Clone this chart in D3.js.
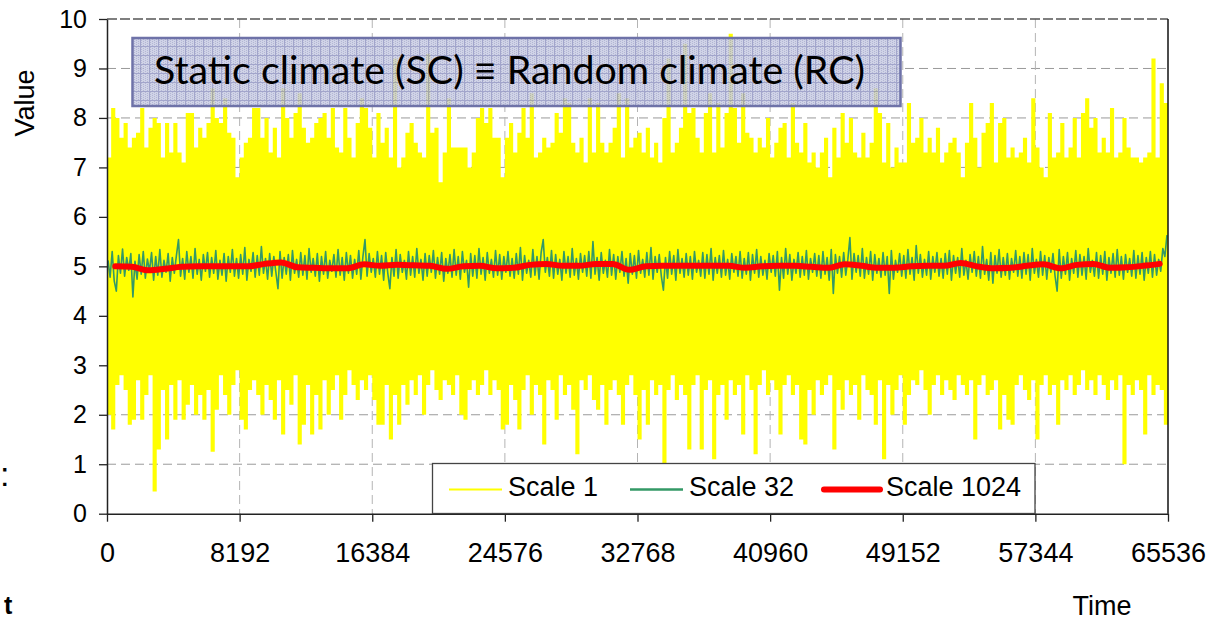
<!DOCTYPE html>
<html><head><meta charset="utf-8">
<script src="https://cdn.jsdelivr.net/npm/d3@7"></script>
<style>body{margin:0;background:#fff;overflow:hidden}svg{display:block}</style>
</head><body>
<svg id="c" width="1216" height="620"></svg>
<script>
// ---------- data ----------
const timeTicks = [0, 8192, 16384, 24576, 32768, 40960, 49152, 57344, 65536];
const valueTicks = [0, 1, 2, 3, 4, 5, 6, 7, 8, 9, 10];
const seriesNames = ["Scale 1", "Scale 32", "Scale 1024"];
const titleText = "Static climate (SC) \u2261 Random climate (RC)";
const timeSpan = 65536;

// Scale 1: upper and lower envelope per block of 256 time steps
const scale1High = [
7.2,8.2,8.0,7.6,7.9,7.4,7.6,7.7,8.2,7.4,
7.8,8.0,7.9,7.2,7.9,7.3,7.9,7.3,7.1,8.1,
8.1,7.4,7.8,7.6,7.9,8.6,8.0,7.9,8.4,7.7,
7.6,6.8,7.2,7.5,7.6,8.2,8.2,7.6,8.0,7.3,
7.8,7.2,8.6,8.0,7.6,8.1,8.5,7.8,7.5,7.6,
7.9,8.0,8.1,7.6,8.2,7.4,7.3,8.2,7.6,7.2,
7.9,8.4,8.2,7.8,7.2,8.1,7.5,7.8,7.2,9.2,
7.0,7.2,7.7,7.9,7.5,7.3,
7.2,9.3,7.7,7.8,6.7,7.3,8.4,7.4,7.4,7.4,
7.4,7.0,7.3,8.0,8.2,7.9,8.2,7.6,7.6,6.8,
7.6,7.9,7.3,7.7,8.2,7.6,8.5,7.2,7.3,7.6,
7.4,7.5,8.1,7.7,8.4,8.3,7.5,7.3,7.6,7.1,
8.4,7.3,8.3,7.5,7.3,7.5,7.8,8.5,7.2,8.4,
7.4,7.6,7.7,7.3,7.8,7.2,7.5,7.1,8.0,9.2,
7.3,7.5,7.8,9.5,8.1,8.2,7.6,7.3,8.1,8.5,
7.3,8.3,7.4,8.1,9.7,8.2,7.5,8.5,7.7,7.6,
7.3,7.6,7.4,8.0,7.2,7.5,7.8,7.9,7.2,8.3,
7.5,7.3,7.9,7.1,7.3,7.0,7.3,
7.6,6.8,7.8,7.2,8.1,7.5,8.0,7.3,7.2,7.7,
7.2,7.5,8.6,8.1,7.1,7.9,7.0,7.4,7.1,7.1,
8.3,7.5,7.6,8.0,7.3,7.6,7.3,7.8,7.1,7.3,
7.5,7.6,7.3,6.8,7.5,8.3,7.6,7.0,7.7,7.9,
8.3,7.1,7.9,8.0,7.2,7.4,7.2,7.3,7.6,7.1,
8.4,7.4,7.0,6.8,8.1,7.2,7.3,7.9,7.2,7.4,
8.0,7.2,8.1,8.4,7.8,8.0,7.3,7.6,7.3,8.2,
7.2,7.3,8.0,7.4,7.2,7.2,7.1,7.2,7.3,9.2,
7.2,8.7,8.3
];
const scale1Low = [
2.0,1.7,2.6,2.8,2.5,1.8,1.9,2.7,1.9,2.4,
2.8,0.45,1.3,2.5,1.5,2.6,1.9,2.7,1.9,2.2,
2.6,2.0,2.4,1.9,2.5,1.25,2.1,2.8,2.4,2.0,
2.6,2.9,1.9,1.7,2.5,2.7,2.4,2.0,2.6,2.3,
1.9,2.7,1.6,2.5,2.2,2.8,1.4,1.8,2.6,1.6,
2.4,1.7,2.7,2.0,2.5,2.8,1.9,2.4,2.9,2.6,
2.3,2.7,2.5,2.8,2.3,1.8,1.8,2.6,1.5,2.4,
1.8,2.6,2.2,2.7,2.4,2.8,2.0,2.6,2.9,2.5,
2.3,2.7,2.6,2.4,2.8,2.0,1.9,2.5,2.7,2.4,
2.6,2.9,2.4,2.7,2.5,1.7,1.8,2.6,2.3,1.7,
2.5,2.8,2.0,2.6,2.4,1.4,2.7,2.5,1.9,2.8,
2.4,2.6,2.1,1.2,2.7,2.5,2.8,2.3,2.1,2.6,
1.8,2.5,2.7,2.4,1.8,2.6,2.8,2.4,1.5,2.5,
1.8,2.7,2.4,2.6,1.0,2.5,2.8,2.3,2.6,2.4,
1.3,2.6,2.8,1.3,2.5,2.7,1.1,2.4,2.6,1.9,
2.7,2.4,2.6,1.6,2.8,2.5,1.2,2.6,2.9,2.4,
2.7,2.5,1.6,2.6,2.8,2.4,2.6,1.5,1.4,2.5,
2.0,2.7,2.4,2.6,2.8,1.3,2.5,2.1,2.7,2.4,
2.6,1.9,2.8,2.5,2.4,1.8,2.7,1.1,2.6,2.0,
2.5,2.8,1.8,2.4,2.7,2.6,2.9,2.5,2.0,2.6,
2.8,2.4,2.7,2.5,2.3,2.8,2.6,2.4,2.7,1.5,
2.6,2.8,2.4,2.5,2.7,1.7,2.4,1.9,1.8,2.6,
2.8,2.5,2.3,2.7,1.5,2.6,2.8,2.4,2.6,1.8,
2.7,2.5,2.8,2.4,2.6,2.9,2.5,2.7,2.4,2.8,
2.6,2.3,2.7,2.5,2.8,1.0,2.6,2.4,2.7,2.5,
1.6,2.8,2.4,2.6,2.5,1.8
];
// Scale 32 (one value per 128 time steps, as drawn)
const scale32 = [
5.12,4.78,5.30,4.70,4.50,5.22,4.86,5.35,4.80,5.18,4.92,5.26,4.38,5.10,4.74,5.24,
4.84,5.30,4.76,5.15,4.90,5.28,4.72,5.20,4.82,5.34,4.78,5.12,4.88,5.26,4.70,5.18,
4.86,5.22,5.54,4.80,5.16,4.74,5.30,4.88,5.20,4.76,5.36,4.84,5.14,4.72,5.24,4.90,
5.28,4.78,5.18,4.86,5.32,4.74,5.12,4.82,5.26,4.70,5.20,4.88,5.34,4.80,5.16,4.76,
5.24,4.84,5.38,4.72,5.14,4.90,5.28,4.78,5.22,4.82,5.40,4.86,5.16,4.74,5.26,4.80,
5.20,4.88,4.55,5.30,4.76,5.18,4.84,5.24,4.72,5.32,4.86,5.14,4.78,5.28,4.82,5.22,
4.74,5.36,4.88,5.16,4.80,5.26,4.70,5.20,4.84,5.30,4.76,5.12,4.90,5.24,4.78,5.34,
4.82,5.18,4.72,5.28,4.86,5.22,4.76,5.14,4.84,5.32,4.74,5.20,5.54,4.80,5.26,4.88,
5.16,4.78,5.30,4.84,5.22,4.72,5.28,4.86,4.55,5.18,4.80,5.34,4.76,5.24,4.88,5.12,
4.74,5.30,4.82,5.20,4.78,5.36,4.86,5.14,4.72,5.26,4.80,5.22,4.88,5.32,4.76,5.18,
4.84,5.28,4.70,5.16,4.86,5.24,4.78,5.34,4.82,5.20,4.74,5.30,4.88,5.12,4.58,5.26,
4.80,5.22,4.76,5.36,4.84,5.18,4.72,5.28,4.86,5.14,4.78,5.32,4.82,5.24,4.74,5.20,
4.88,5.30,4.80,5.16,4.76,5.26,4.84,5.38,4.72,5.22,4.86,5.12,4.78,5.34,4.82,5.20,
4.74,5.28,5.54,4.88,5.18,4.80,5.32,4.76,5.24,4.84,5.14,4.72,5.30,4.86,5.20,4.78,
5.36,4.82,5.16,4.74,5.26,4.88,5.22,4.80,5.30,4.76,5.50,4.84,5.18,4.72,5.28,4.86,
5.12,4.78,5.34,4.82,5.24,4.74,5.20,4.88,5.30,4.80,5.16,4.66,5.26,4.84,5.22,4.76,
5.32,4.86,5.14,4.78,5.28,4.82,5.38,4.74,5.20,4.88,5.24,4.80,4.52,5.18,4.76,5.30,
4.84,5.22,4.72,5.34,4.86,5.16,4.78,5.26,4.82,5.20,4.74,5.30,4.88,5.12,4.80,5.28,
4.76,5.24,4.84,5.36,4.72,5.18,4.86,5.22,4.78,5.32,4.82,5.14,4.74,5.26,4.88,5.20,
4.80,5.30,4.76,5.16,4.84,5.28,4.72,5.24,4.86,5.34,4.78,5.20,4.82,5.12,4.74,5.26,
4.88,5.22,4.80,5.30,4.52,5.18,4.76,5.36,4.84,5.24,4.72,5.14,4.86,5.28,4.78,5.20,
4.82,5.32,4.74,5.16,4.88,5.26,4.80,5.22,4.76,5.30,4.84,5.18,4.72,5.34,4.45,5.24,
4.86,5.20,4.78,5.28,4.82,5.14,5.58,4.74,5.26,4.88,5.22,4.80,5.36,4.76,5.18,4.84,
5.30,4.72,5.24,4.86,5.16,4.78,5.28,4.82,5.20,4.45,5.32,4.74,5.12,4.88,5.26,4.80,
5.22,4.76,5.34,4.84,5.18,4.72,5.42,4.86,5.24,4.78,5.14,4.82,5.30,4.74,5.20,4.88,
5.28,4.80,5.16,4.76,5.26,4.84,5.32,4.72,5.22,4.86,5.18,4.78,5.36,4.82,5.12,4.74,
5.24,4.88,5.30,4.80,5.20,4.76,5.40,4.84,5.14,4.72,5.28,4.66,5.22,4.86,5.34,4.78,
5.18,4.82,5.26,4.74,5.16,4.88,5.32,4.80,5.20,4.76,5.28,4.84,5.24,4.72,5.36,4.86,
5.14,4.78,5.30,4.82,5.22,4.74,5.18,4.88,5.26,4.80,4.50,5.34,4.76,5.20,4.84,5.28,
4.72,5.16,4.86,5.32,4.78,5.24,4.82,5.20,4.74,5.36,4.88,5.12,4.80,5.28,4.76,5.22,
4.84,5.30,4.72,5.18,4.86,5.26,4.78,5.34,4.82,5.20,4.74,5.24,4.88,5.16,4.80,5.32,
4.76,5.22,4.84,5.28,4.72,5.18,4.86,5.30,4.78,5.24,4.82,5.14,4.90,5.36,5.20,5.63
];
// Scale 1024 (64 block means)
const scale1024 = [
5.00,4.99,4.92,4.95,4.99,5.00,5.00,5.00,5.00,5.05,5.08,4.98,4.97,4.96,4.96,5.04,5.01,5.03,5.02,
5.01,4.95,5.00,5.01,4.96,4.97,5.03,5.05,5.01,5.01,5.05,5.05,4.93,5.00,5.01,5.01,5.01,5.01,5.01,4.97,5.00,5.01,5.01,4.99,
4.97,5.04,5.01,4.97,4.97,5.00,5.01,5.01,5.07,5.00,4.96,4.97,5.01,5.04,4.96,5.03,5.05,4.97,4.98,5.01,5.05
];
const seriesColors = ["#ffff00", "#339966", "#ff0000"];

// ---------- layout ----------
const svg = d3.select("#c");
const L = 107, R = 1168, T = 19, B = 513.7;
const x = d3.scaleLinear().domain([0, timeSpan]).range([L, R]);
const y = d3.scaleLinear().domain([0, 10]).range([B, T]);
const FONT = "'Liberation Sans', Arial, sans-serif";

const defs = svg.append("defs");
const pat = defs.append("pattern").attr("id", "tp").attr("patternUnits", "userSpaceOnUse")
  .attr("width", 9).attr("height", 9).attr("x", 132).attr("y", 38);
pat.append("rect").attr("width", 9).attr("height", 9).attr("fill", "#c8cbe3");
for (let i = 0; i < 9; i += 2) for (let j = (i/2)%2; j < 9; j += 2)
  pat.append("rect").attr("x", i).attr("y", j).attr("width", 1).attr("height", 1).attr("fill", "#a6a9cd");
pat.append("rect").attr("x", 0).attr("y", 8).attr("width", 9).attr("height", 1).attr("fill", "#9295c2");
pat.append("rect").attr("x", 8).attr("y", 0).attr("width", 1).attr("height", 9).attr("fill", "#9295c2");

// gridlines
const grid = svg.append("g");
grid.selectAll("line.h").data(valueTicks.filter(v => v > 0 && v < 10)).enter().append("line")
  .attr("x1", L).attr("x2", R).attr("y1", d => y(d)).attr("y2", d => y(d))
  .attr("stroke", "#9a9a9a").attr("stroke-width", 1).attr("stroke-dasharray", "9,5");
grid.selectAll("line.v").data(timeTicks.filter(t => t > 0 && t < timeSpan)).enter().append("line")
  .attr("x1", d => x(d)).attr("x2", d => x(d)).attr("y1", T).attr("y2", B)
  .attr("stroke", "#b4b4b4").attr("stroke-width", 1).attr("stroke-dasharray", "9,5");
grid.append("line").attr("x1", L).attr("x2", R).attr("y1", y(10)).attr("y2", y(10))
  .attr("stroke", "#555").attr("stroke-width", 1.5).attr("stroke-dasharray", "10,3");

// Scale 1 as step area between envelopes
const blk = timeSpan / scale1High.length;
const s1 = scale1High.map((h, k) => ({t: k * blk, hi: h, lo: scale1Low[k]}));
s1.push({t: timeSpan, hi: scale1High[scale1High.length-1], lo: scale1Low[scale1Low.length-1]});
svg.append("path").datum(s1)
  .attr("d", d3.area().curve(d3.curveStepAfter).x(d => x(d.t)).y0(d => y(d.lo)).y1(d => y(d.hi)))
  .attr("fill", seriesColors[0]);

// Scale 32
const b32 = timeSpan / scale32.length;
svg.append("path").datum(scale32)
  .attr("d", d3.line().x((d, i) => x(i * b32 + b32 / 2)).y(d => y(d)))
  .attr("fill", "none").attr("stroke", seriesColors[1]).attr("stroke-width", 1.6).attr("stroke-linejoin", "round");

// Scale 1024
const b1024 = timeSpan / scale1024.length;
svg.append("path").datum(scale1024)
  .attr("d", d3.line().curve(d3.curveMonotoneX).x((d, i) => x(i * b1024 + b1024 / 2)).y(d => y(d)))
  .attr("fill", "none").attr("stroke", seriesColors[2]).attr("stroke-width", 6)
  .attr("stroke-linejoin", "round").attr("stroke-linecap", "round");

// axes
const ya = svg.append("g").attr("transform", `translate(${L},0)`)
  .call(d3.axisLeft(y).tickValues(valueTicks).tickSize(8).tickPadding(12).tickSizeOuter(0));
ya.select(".domain").attr("stroke", "#222").attr("stroke-width", 1.5);
ya.selectAll(".tick line").attr("stroke", "#222").attr("stroke-width", 1.3);
ya.selectAll("text").attr("font-family", FONT).attr("font-size", 25).attr("fill", "#000");

const xa = svg.append("g").attr("transform", `translate(0,${B})`)
  .call(d3.axisBottom(x).tickValues(timeTicks).tickFormat(d3.format("d")).tickSize(8).tickPadding(21).tickSizeOuter(0));
xa.select(".domain").attr("stroke", "#222").attr("stroke-width", 1.5);
xa.selectAll(".tick line").attr("stroke", "#222").attr("stroke-width", 1.3);
xa.selectAll("text").attr("font-family", FONT).attr("font-size", 27).attr("fill", "#000");

svg.append("line").attr("x1", R).attr("x2", R).attr("y1", T).attr("y2", B)
  .attr("stroke", "#111").attr("stroke-width", 1.5);

// axis titles
svg.append("text").attr("transform", "translate(34,103) rotate(-90)").attr("text-anchor", "middle")
  .attr("font-family", FONT).attr("font-size", 27).text("Value");
svg.append("text").attr("x", 1102).attr("y", 615).attr("text-anchor", "middle")
  .attr("font-family", FONT).attr("font-size", 27).text("Time");

// title box
svg.append("rect").attr("x", 132.5).attr("y", 38).attr("width", 768).attr("height", 68)
  .attr("fill", "url(#tp)").attr("fill-opacity", 0.85).attr("stroke", "#6e72a8").attr("stroke-width", 2.5);
svg.append("text").attr("x", 154).attr("y", 83.5)
  .attr("font-family", "Lato, 'Open Sans', 'DejaVu Sans', sans-serif").attr("font-size", 38)
  .attr("textLength", 711).attr("lengthAdjust", "spacingAndGlyphs").attr("fill", "#000")
  .text(titleText);

// legend
const lg = svg.append("g");
lg.append("rect").attr("x", 432.5).attr("y", 463.5).attr("width", 602.5).attr("height", 50)
  .attr("fill", "#fff").attr("stroke", "#444").attr("stroke-width", 1.3);
const lgX = [449, 630, 824];
const lgW = [53, 53, 56];
const lgSW = [2, 2.5, 6];
seriesNames.forEach((name, i) => {
  lg.append("line").attr("x1", lgX[i]).attr("x2", lgX[i] + lgW[i]).attr("y1", 489.5).attr("y2", 489.5)
    .attr("stroke", seriesColors[i]).attr("stroke-width", lgSW[i]).attr("stroke-linecap", i === 2 ? "round" : "butt");
  lg.append("text").attr("x", lgX[i] + lgW[i] + 6).attr("y", 495.5)
    .attr("font-family", FONT).attr("font-size", 27).attr("fill", "#000").text(name);
});

// fragments at the left edge of the picture
svg.append("text").attr("x", 4).attr("y", 614)
  .attr("font-family", FONT).attr("font-weight", "bold").attr("font-size", 25).text("t");
svg.append("text").attr("x", 0).attr("y", 486).attr("font-family", FONT).attr("font-size", 34).text(":");
</script>
</body></html>
